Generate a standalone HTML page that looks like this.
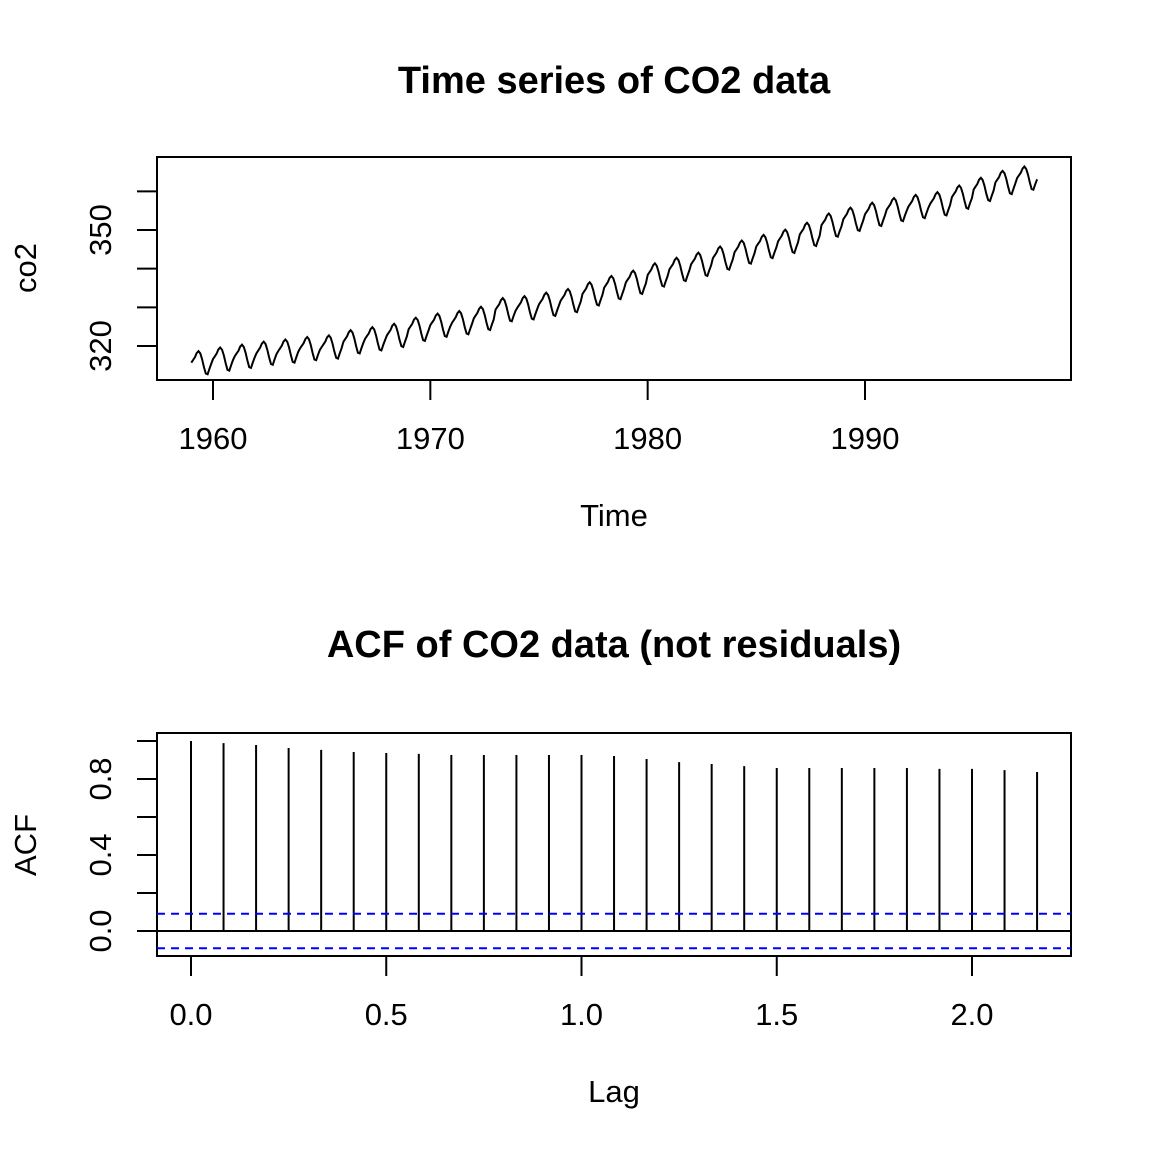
<!DOCTYPE html>
<html><head><meta charset="utf-8"><style>
html,body{margin:0;padding:0;background:#fff;}
svg{display:block;font-family:"Liberation Sans",Arial,sans-serif;}
</style></head><body>
<svg id="chart" width="1152" height="1152" viewBox="0 0 1152 1152" xmlns="http://www.w3.org/2000/svg">
<rect width="1152" height="1152" fill="#fff"/>
<text x="614" y="93" font-size="38" font-weight="bold" text-anchor="middle">Time series of CO2 data</text>
<rect x="157" y="157" width="914" height="223" fill="none" stroke="#000" stroke-width="2"/>
<g id="tsXAxis"></g>
<g id="tsYAxis"></g>
<path id="tsLine" fill="none" stroke="#000" stroke-width="2"/>
<text x="614" y="526" font-size="31" text-anchor="middle">Time</text>
<text transform="translate(36,268) rotate(-90)" font-size="31" text-anchor="middle">co2</text>

<text x="614" y="657" font-size="38" font-weight="bold" text-anchor="middle">ACF of CO2 data (not residuals)</text>
<rect x="157" y="733" width="914" height="223" fill="none" stroke="#000" stroke-width="2"/>
<g id="acfXAxis"></g>
<g id="acfYAxis"></g>
<g id="acfBars"></g>
<text x="614" y="1102" font-size="31" text-anchor="middle">Lag</text>
<text transform="translate(36,845) rotate(-90)" font-size="31" text-anchor="middle">ACF</text>
</svg>
<script>
const startYear = 1959;
const annualMeans = [315.98,316.91,317.64,318.45,318.99,319.62,320.04,321.38,322.16,323.04,324.62,325.68,326.32,327.45,329.68,330.18,331.08,332.05,333.78,335.41,336.78,338.68,340.10,341.44,343.03,344.58,346.04,347.39,349.16,351.56,353.07,354.35,355.57,356.38,357.07,358.82,360.80,362.59,363.71];
const seasonalOffsets = [-0.3,0.4,1.1,2.2,2.7,2.1,0.6,-1.4,-3.1,-3.3,-1.9,-0.6];
const tsXTicks = [1960,1970,1980,1990];
const tsYTicks = [320,330,340,350,360];
const tsYLabels = [320,350];
const acfValues = [1.0,0.989,0.979,0.963,0.953,0.942,0.937,0.932,0.926,0.926,0.926,0.926,0.926,0.921,0.905,0.889,0.879,0.868,0.858,0.858,0.858,0.858,0.858,0.853,0.853,0.847,0.837];
const acfLagsPerYear = 12;
const ciBound = 0.0906;
const acfXTicks = [0.0,0.5,1.0,1.5,2.0];
const acfYTicks = [0.0,0.2,0.4,0.6,0.8,1.0];
const acfYLabels = ["0.0","0.4","0.8"];

const NS="http://www.w3.org/2000/svg";
function mk(tag,attrs,parent,txt){const e=document.createElementNS(NS,tag);for(const k in attrs)e.setAttribute(k,attrs[k]);if(txt!==undefined)e.textContent=txt;parent.appendChild(e);return e;}
const tsX=t=>213+(t-1960)*(865-213)/30;
const tsY=v=>346-(v-320)*(346-230)/30;
const acX=l=>191+l*(972-191)/2;
const acY=v=>931-v*(931-741)/1;

const pts=[];
annualMeans.forEach((m,i)=>seasonalOffsets.forEach((s,j)=>{pts.push([tsX(startYear+i+j/12),tsY(m+s)]);}));
document.getElementById('tsLine').setAttribute('d','M'+pts.map(p=>p[0].toFixed(1)+','+p[1].toFixed(1)).join('L'));

const gx=document.getElementById('tsXAxis');
tsXTicks.forEach(t=>{
 const l=mk('line',{x1:tsX(t),x2:tsX(t),y1:380,y2:400,stroke:'#000','stroke-width':2},gx);
 
 
 const tx=mk('text',{x:tsX(t),y:449,'font-size':31,'text-anchor':'middle'},gx,String(t));
 
 
});
const gy=document.getElementById('tsYAxis');
tsYTicks.forEach(v=>{
 const l=mk('line',{x1:137,x2:157,y1:tsY(v),y2:tsY(v),stroke:'#000','stroke-width':2},gy);
 
 
});
tsYLabels.forEach(v=>{
 const tx=mk('text',{transform:`translate(111,${tsY(v)}) rotate(-90)`,'font-size':31,'text-anchor':'middle'},gy,String(v));
 
 
});

const gb=document.getElementById('acfBars');
acfValues.forEach((v,i)=>{
 const x=acX(i/acfLagsPerYear);
 const l=mk('line',{x1:x,x2:x,y1:acY(0),y2:acY(v),stroke:'#000','stroke-width':2},gb);
 
 
});
const z=mk('line',{x1:157,x2:1071,y1:acY(0),y2:acY(0),stroke:'#000','stroke-width':2},gb);


[ciBound,-ciBound].forEach(b=>{
 const l=mk('line',{x1:157,x2:1071,y1:acY(b),y2:acY(b),stroke:'#0000ff','stroke-width':2,'stroke-dasharray':'8,6'},gb);
 
 
});
const ax=document.getElementById('acfXAxis');
acfXTicks.forEach(t=>{
 const l=mk('line',{x1:acX(t),x2:acX(t),y1:956,y2:976,stroke:'#000','stroke-width':2},ax);
 
 
 const tx=mk('text',{x:acX(t),y:1025,'font-size':31,'text-anchor':'middle'},ax,t.toFixed(1));
 
 
});
const ay=document.getElementById('acfYAxis');
acfYTicks.forEach(v=>{
 const l=mk('line',{x1:137,x2:157,y1:acY(v),y2:acY(v),stroke:'#000','stroke-width':2},ay);
 
 
});
acfYLabels.forEach(s=>{
 const tx=mk('text',{transform:`translate(111,${acY(parseFloat(s))}) rotate(-90)`,'font-size':31,'text-anchor':'middle'},ay,s);
 
 
});
</script>
</body></html>
